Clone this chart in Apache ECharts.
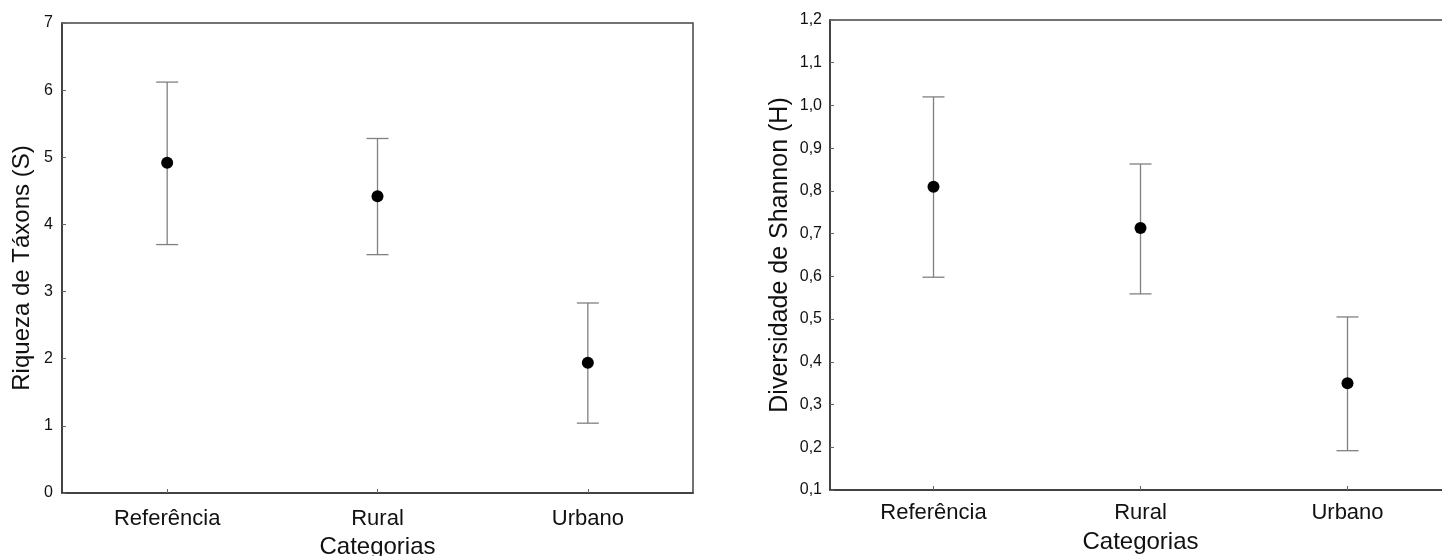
<!DOCTYPE html>
<html>
<head>
<meta charset="utf-8">
<script src="https://cdn.jsdelivr.net/npm/echarts@6/dist/echarts.min.js"></script>
<style>
  html, body { margin: 0; padding: 0; background: #fff; }
  #chart { width: 1442px; height: 556px; }
</style>
</head>
<body>
<div id="chart"></div>
<script>
// dados
var categories = ['Referência', 'Rural', 'Urbano'];
// riqueza de táxons (S): média e limites
var richMean = [4.92, 4.42, 1.94];
var richLow = [3.70, 3.55, 1.04];
var richHigh = [6.12, 5.28, 2.83];
// diversidade de Shannon (H)
var shanMean = [0.81, 0.713, 0.35];
var shanLow = [0.598, 0.559, 0.192];
var shanHigh = [1.02, 0.863, 0.505];

var font = 'Liberation Sans, Arial, sans-serif';

function rows(mean, low, high) {
  return mean.map(function (m, i) { return [i, m, low[i], high[i]]; });
}

// barra de erro com traço horizontal nas pontas
function errorBar(params, api) {
  var x = api.value(0);
  var lo = api.coord([x, api.value(2)]);
  var hi = api.coord([x, api.value(3)]);
  var w = 11;
  var st = { stroke: '#808080', lineWidth: 1.3 };
  return {
    type: 'group',
    children: [
      { type: 'line', shape: { x1: lo[0], y1: lo[1], x2: hi[0], y2: hi[1] }, style: st },
      { type: 'line', shape: { x1: lo[0] - w, y1: lo[1], x2: lo[0] + w, y2: lo[1] }, style: st },
      { type: 'line', shape: { x1: hi[0] - w, y1: hi[1], x2: hi[0] + w, y2: hi[1] }, style: st }
    ]
  };
}

function xAx(idx, labelMargin, gap) {
  return {
    type: 'category',
    gridIndex: idx,
    data: categories,
    boundaryGap: true,
    name: 'Categorias',
    nameLocation: 'middle',
    nameGap: gap,
    nameTextStyle: { fontFamily: font, fontSize: 24, color: '#111' },
    axisLine: { lineStyle: { color: '#333', width: 1.5 } },
    axisTick: { show: true, inside: true, length: 4, alignWithLabel: true, lineStyle: { color: '#666' } },
    axisLabel: { fontFamily: font, fontSize: 22, color: '#111', margin: labelMargin }
  };
}

var chart = echarts.init(document.getElementById('chart'));
chart.setOption({
  animation: false,
  backgroundColor: '#fff',
  grid: [
    { left: 62, top: 23, width: 631, height: 470, show: true, borderColor: '#444', borderWidth: 1.5, outerBoundsMode: 'none' },
    { left: 830, top: 20, width: 621, height: 470, show: true, borderColor: '#444', borderWidth: 1.5, outerBoundsMode: 'none' }
  ],
  xAxis: [xAx(0, 15, 42), xAx(1, 12, 40)],
  yAxis: [
    {
      type: 'value', gridIndex: 0, min: 0, max: 7, interval: 1,
      name: 'Riqueza de Táxons (S)', nameLocation: 'middle', nameGap: 28,
      nameTextStyle: { fontFamily: font, fontSize: 24, color: '#111', padding: [0, 20, 0, 0] },
      splitLine: { show: false },
      axisLine: { show: true, lineStyle: { color: '#333', width: 1.5 } },
      axisTick: { show: true, inside: true, length: 4, lineStyle: { color: '#666' } },
      axisLabel: { fontFamily: font, fontSize: 16, color: '#111', margin: 9 }
    },
    {
      type: 'value', gridIndex: 1, min: 0.1, max: 1.2, interval: 0.1,
      name: 'Diversidade de Shannon (H)', nameLocation: 'middle', nameGap: 37,
      nameTextStyle: { fontFamily: font, fontSize: 25, color: '#111' },
      splitLine: { show: false },
      axisLine: { show: true, lineStyle: { color: '#333', width: 1.5 } },
      axisTick: { show: true, inside: true, length: 4, lineStyle: { color: '#666' } },
      axisLabel: {
        fontFamily: font, fontSize: 16, color: '#111', margin: 8,
        formatter: function (v) { return v.toFixed(1).replace('.', ','); }
      }
    }
  ],
  series: [
    { type: 'custom', xAxisIndex: 0, yAxisIndex: 0, renderItem: errorBar,
      data: rows(richMean, richLow, richHigh), encode: { x: 0, y: [2, 3] }, z: 1 },
    { type: 'scatter', xAxisIndex: 0, yAxisIndex: 0, symbolSize: 12,
      itemStyle: { color: '#000', opacity: 1 }, data: richMean.map(function (m, i) { return [i, m]; }), z: 2 },
    { type: 'custom', xAxisIndex: 1, yAxisIndex: 1, renderItem: errorBar,
      data: rows(shanMean, shanLow, shanHigh), encode: { x: 0, y: [2, 3] }, z: 1 },
    { type: 'scatter', xAxisIndex: 1, yAxisIndex: 1, symbolSize: 12,
      itemStyle: { color: '#000', opacity: 1 }, data: shanMean.map(function (m, i) { return [i, m]; }), z: 2 }
  ]
});
</script>
</body>
</html>
